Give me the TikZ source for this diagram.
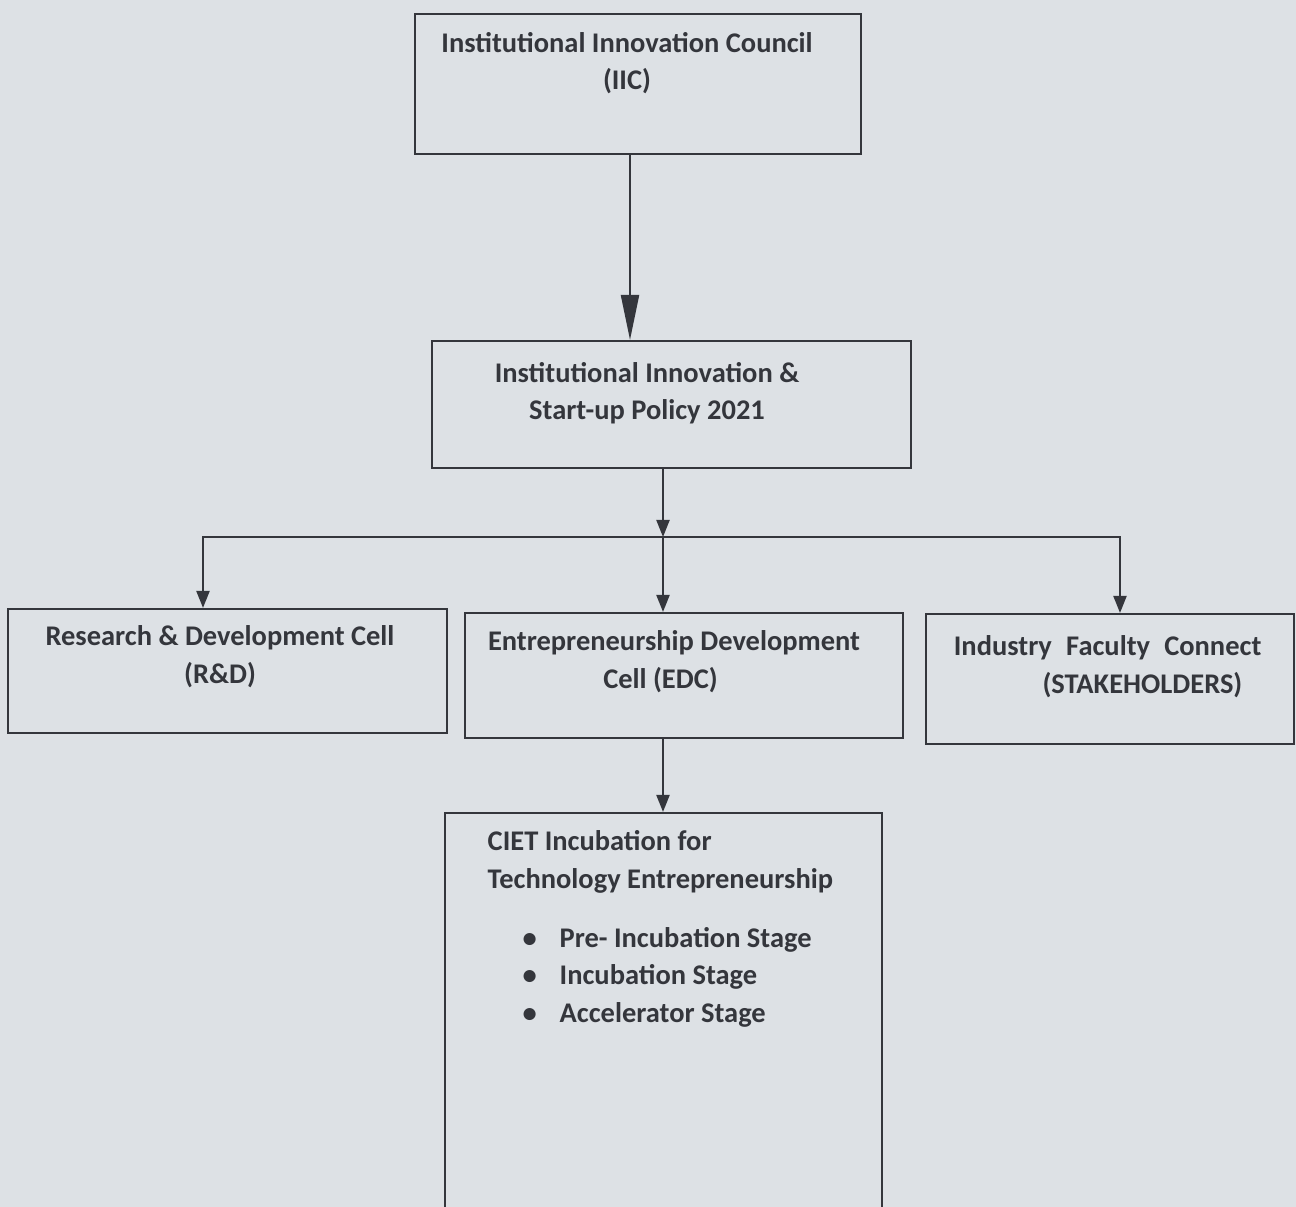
\documentclass[tikz,border=0pt]{standalone}
\usepackage{fontspec}
\setmainfont{Carlito}
\usepackage{tikz}
\usetikzlibrary{arrows.meta, positioning, calc}
\definecolor{paper}{RGB}{221,225,229}
\definecolor{ink}{RGB}{52,54,60}

\begin{document}
\begin{tikzpicture}[
    >={Triangle[length=1.7mm, width=1.3mm]},
    cellbox/.style={draw=ink, line width=0.6pt, minimum width=#1, inner sep=0pt},
    celltext/.style={text=ink, font=\bfseries\fontsize{8.1pt}{10.6pt}\selectfont, inner sep=0pt},
    flow/.style={draw=ink, line width=0.6pt},
]
    \clip (0,0) rectangle (12.96,-12.07);
    \fill[paper] (0,0) rectangle (12.96,-12.07);

    % boxes
    \node[cellbox=4.46cm, minimum height=1.40cm] (iic) at (6.38,-0.84) {};
    \node[cellbox=4.79cm, minimum height=1.27cm] (policy) at (6.715,-4.045) {};
    \node[cellbox=4.39cm, minimum height=1.24cm] (rnd) at (2.275,-6.71) {};
    \node[cellbox=4.38cm, minimum height=1.25cm] (edc) at (6.84,-6.755) {};
    \node[cellbox=3.68cm, minimum height=1.30cm] (ifc) at (11.10,-6.79) {};
    \node[cellbox=4.37cm, minimum height=4.06cm] (ciet) at (6.635,-10.16) {};

    % texts (base = last line)
    \node[celltext, align=center, anchor=base] (iictext) at (6.27,-0.90)
        {Institutional Innovation Council\\(IIC)};
    \node[celltext, align=center, anchor=base] (policytext) at (6.47,-4.20)
        {Institutional Innovation \&\\Start-up Policy 2021};
    \node[celltext, align=center, anchor=base] (rndtext) at (2.20,-6.83)
        {Research \& Development Cell\\(R\&D)};
    \node[celltext, align=center, anchor=base] (edctext) at (6.74,-6.88)
        {Entrepreneurship Development\\Cell (EDC)\hspace*{0.27cm}};
    \node[celltext, align=right, anchor=base east] (ifctext) at (12.62,-6.93)
        {Industry\enspace Faculty\enspace Connect\\(STAKEHOLDERS)\hspace*{0.19cm}};
    \node[celltext, align=left, anchor=base west] (cietext) at (4.87,-10.22)
        {CIET Incubation for\\Technology Entrepreneurship\\[0.22cm]
         \hspace*{0.35cm}\makebox[0.37cm][l]{\textbullet}Pre- Incubation Stage\\
         \hspace*{0.35cm}\makebox[0.37cm][l]{\textbullet}Incubation Stage\\
         \hspace*{0.35cm}\makebox[0.37cm][l]{\textbullet}Accelerator Stage};

    % connectors
    \coordinate (split) at (6.63,-5.37);
    \draw[flow, -{Triangle[length=4.5mm, width=1.8mm]}]
        ([xshift=-0.08cm]iic.south) -- ([xshift=-0.08cm]iic.south |- policy.north);
    \draw[flow, ->] (policy.south -| split) -- (split);
    \draw[flow, ->] (split) -| ([xshift=-0.245cm]rnd.north);
    \draw[flow, ->] (split) -| ([xshift=0.10cm]ifc.north);
    \draw[flow, ->] (split) -- (split |- edc.north);
    \draw[flow, ->] (edc.south -| split) -- (split |- ciet.north);
\end{tikzpicture}
\end{document}
